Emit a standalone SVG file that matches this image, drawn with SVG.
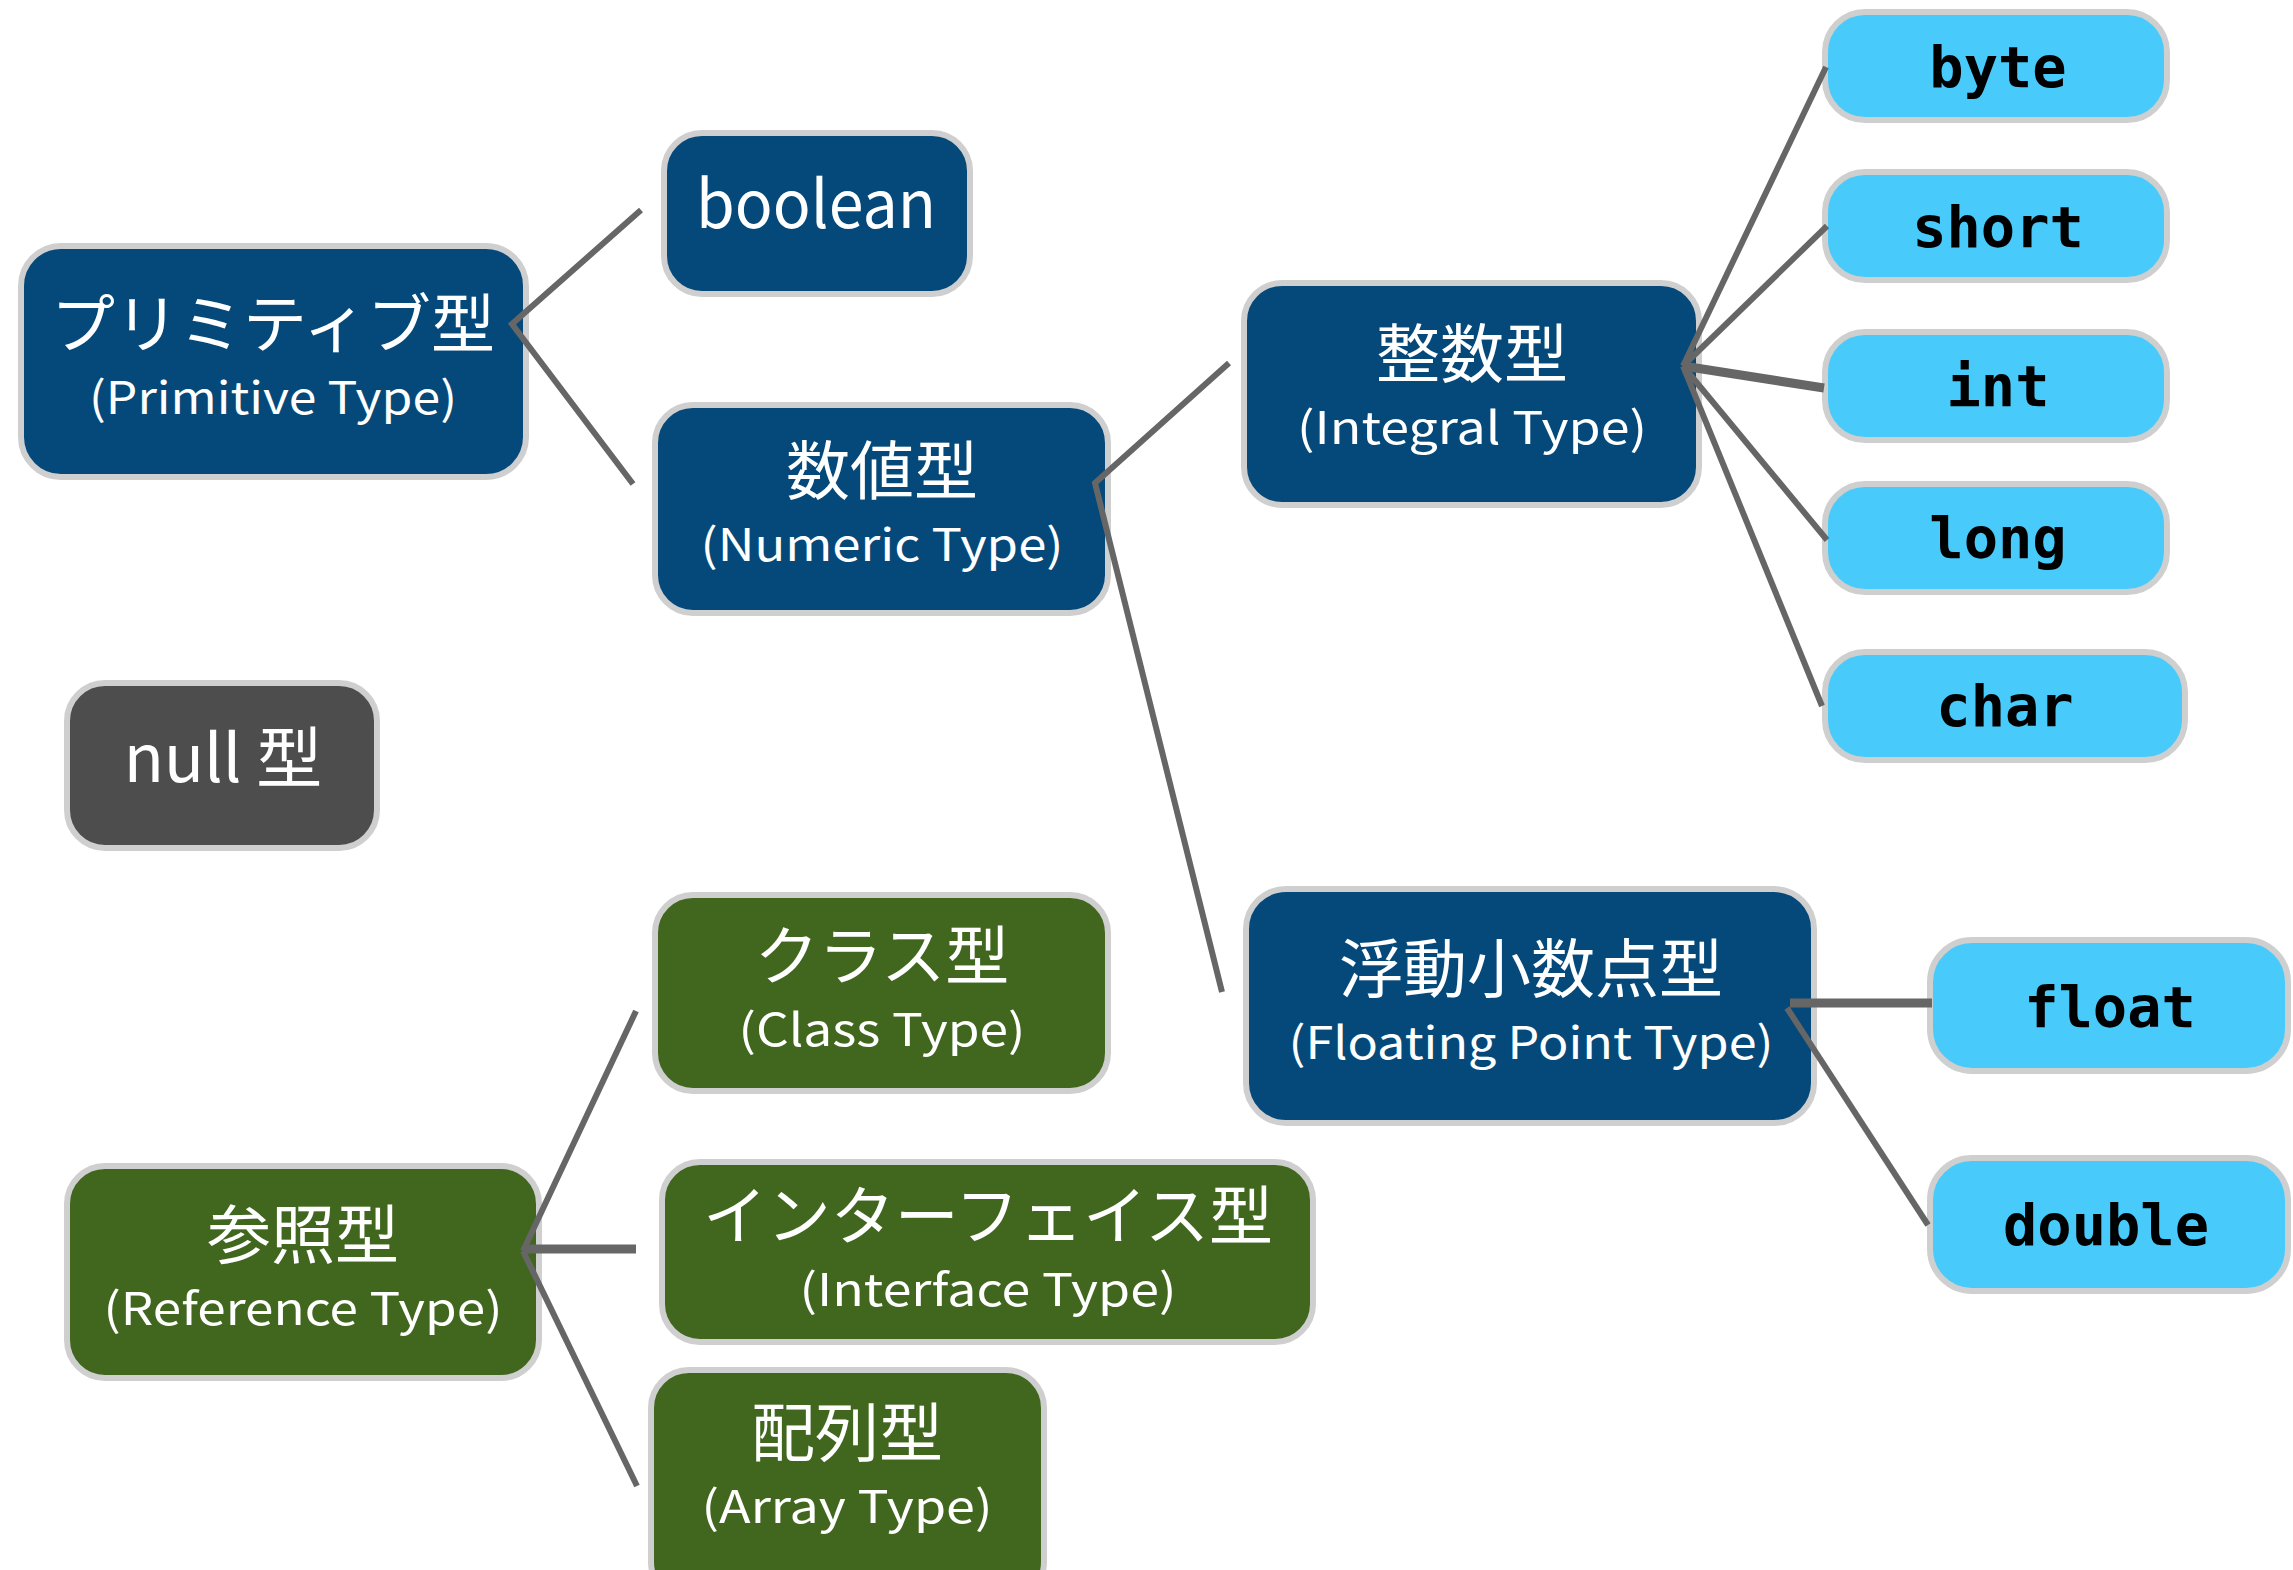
<svg xmlns="http://www.w3.org/2000/svg" width="2293" height="1570" viewBox="0 0 2293 1570">
  <style>
    .box { stroke: #cfcfcf; stroke-width: 6; }
    .prim { fill: #04497a; }
    .ref { fill: #41671f; }
    .leaf { fill: #48cbfa; }
    .nul { fill: #4d4d4d; }
    .label { font-family: "Noto Sans CJK JP", "Noto Sans", sans-serif; fill: #ffffff; text-anchor: middle; }
    .jp { font-size: 64px; }
    .en { font-size: 45px; }
    .big { font-family: "Noto Sans CJK JP", "Noto Sans", sans-serif; font-size: 66px; fill: #ffffff; text-anchor: middle; }
    .code { font-family: "DejaVu Sans Mono", "Liberation Mono", monospace; font-weight: bold; font-size: 57px; fill: #000000; text-anchor: middle; }
    .link { fill: none; stroke: #666666; stroke-width: 6; stroke-linecap: butt; stroke-linejoin: miter; }
    .thick { stroke-width: 9; }
  </style>

  <!-- primitive branch -->
  <g id="primitive">
    <rect class="box prim" x="21" y="246" width="505" height="231" rx="40"/>
    <text class="label"><tspan class="jp" x="273" y="347">プリミティブ型</tspan><tspan class="en" x="273" y="414" textLength="368" lengthAdjust="spacingAndGlyphs">(Primitive Type)</tspan></text>
  </g>
  <g id="boolean">
    <rect class="box prim" x="664" y="133" width="306" height="161" rx="38"/>
    <text class="big" x="816" y="228" textLength="240" lengthAdjust="spacingAndGlyphs">boolean</text>
  </g>
  <g id="numeric">
    <rect class="box prim" x="655" y="405" width="453" height="208" rx="38"/>
    <text class="label"><tspan class="jp" x="882" y="494">数値型</tspan><tspan class="en" x="882" y="561" textLength="363" lengthAdjust="spacingAndGlyphs">(Numeric Type)</tspan></text>
  </g>
  <g id="integral">
    <rect class="box prim" x="1244" y="283" width="455" height="222" rx="38"/>
    <text class="label"><tspan class="jp" x="1472" y="377">整数型</tspan><tspan class="en" x="1472" y="444" textLength="350" lengthAdjust="spacingAndGlyphs">(Integral Type)</tspan></text>
  </g>
  <g id="floating">
    <rect class="box prim" x="1246" y="889" width="568" height="234" rx="40"/>
    <text class="label"><tspan class="jp" x="1531" y="992">浮動小数点型</tspan><tspan class="en" x="1531" y="1059" textLength="485" lengthAdjust="spacingAndGlyphs">(Floating Point Type)</tspan></text>
  </g>

  <!-- primitive leaves -->
  <g id="byte">
    <rect class="box leaf" x="1825" y="12" width="342" height="108" rx="40"/>
    <text class="code" x="1998" y="87">byte</text>
  </g>
  <g id="short">
    <rect class="box leaf" x="1825" y="172" width="342" height="108" rx="40"/>
    <text class="code" x="1998" y="247">short</text>
  </g>
  <g id="int">
    <rect class="box leaf" x="1825" y="332" width="342" height="108" rx="40"/>
    <text class="code" x="1998" y="406">int</text>
  </g>
  <g id="long">
    <rect class="box leaf" x="1825" y="484" width="342" height="108" rx="40"/>
    <text class="code" x="1998" y="558">long</text>
  </g>
  <g id="char">
    <rect class="box leaf" x="1825" y="652" width="360" height="108" rx="40"/>
    <text class="code" x="2005" y="726">char</text>
  </g>
  <g id="float">
    <rect class="box leaf" x="1930" y="940" width="358" height="131" rx="42"/>
    <text class="code" x="2110" y="1027">float</text>
  </g>
  <g id="double">
    <rect class="box leaf" x="1930" y="1158" width="358" height="133" rx="42"/>
    <text class="code" x="2106" y="1245">double</text>
  </g>

  <!-- null type -->
  <g id="null">
    <rect class="box nul" x="67" y="683" width="310" height="165" rx="38"/>
    <text class="big" x="223" y="782">null 型</text>
  </g>

  <!-- reference branch -->
  <g id="reference">
    <rect class="box ref" x="67" y="1166" width="472" height="212" rx="38"/>
    <text class="label"><tspan class="jp" x="303" y="1258">参照型</tspan><tspan class="en" x="303" y="1325" textLength="399" lengthAdjust="spacingAndGlyphs">(Reference Type)</tspan></text>
  </g>
  <g id="class">
    <rect class="box ref" x="655" y="895" width="453" height="196" rx="38"/>
    <text class="label"><tspan class="jp" x="882" y="979">クラス型</tspan><tspan class="en" x="882" y="1046" textLength="287" lengthAdjust="spacingAndGlyphs">(Class Type)</tspan></text>
  </g>
  <g id="interface">
    <rect class="box ref" x="662" y="1162" width="651" height="180" rx="38"/>
    <text class="label"><tspan class="jp" x="988" y="1239">インターフェイス型</tspan><tspan class="en" x="988" y="1306" textLength="377" lengthAdjust="spacingAndGlyphs">(Interface Type)</tspan></text>
  </g>
  <g id="array">
    <rect class="box ref" x="651" y="1370" width="393" height="230" rx="38"/>
    <text class="label"><tspan class="jp" x="847" y="1456">配列型</tspan><tspan class="en" x="847" y="1523" textLength="291" lengthAdjust="spacingAndGlyphs">(Array Type)</tspan></text>
  </g>

  <!-- connectors -->
  <g id="connectors">
    <polyline class="link" points="641,210 512,324 633,484"/>
    <polyline class="link" points="1229,363 1095,483 1222,992"/>
    <line class="link" x1="1683" y1="366" x2="1826" y2="67"/>
    <line class="link" x1="1683" y1="366" x2="1827" y2="226"/>
    <line class="link thick" x1="1683" y1="366" x2="1824" y2="388"/>
    <line class="link" x1="1683" y1="366" x2="1827" y2="540"/>
    <line class="link" x1="1683" y1="366" x2="1822" y2="706"/>
    <line class="link thick" x1="1790" y1="1003" x2="1932" y2="1003"/>
    <line class="link" x1="1787" y1="1008" x2="1928" y2="1225"/>
    <line class="link" x1="523" y1="1251" x2="636" y2="1011"/>
    <line class="link thick" x1="523" y1="1249" x2="636" y2="1249"/>
    <line class="link" x1="523" y1="1251" x2="637" y2="1486"/>
  </g>
</svg>
